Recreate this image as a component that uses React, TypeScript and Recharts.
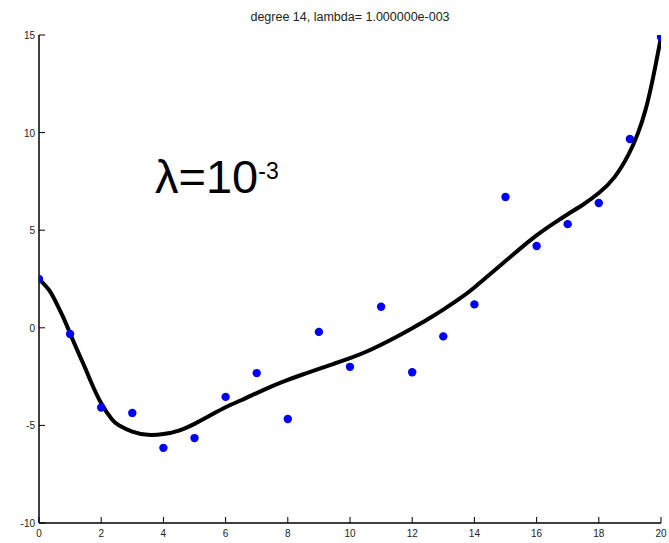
import React from 'react';
import { ComposedChart, Line, Scatter, XAxis, YAxis } from 'recharts';

// observed samples
const sampleX = [0, 1, 2, 3, 4, 5, 6, 7, 8, 9, 10, 11, 12, 13, 14, 15, 16, 17, 18, 19, 20];
const sampleY = [2.5, -0.32, -4.08, -4.36, -6.15, -5.65, -3.54, -2.32, -4.67, -0.21, -2.0, 1.08, -2.28, -0.44, 1.2, 6.7, 4.19, 5.31, 6.39, 9.67, 14.9];

// fitted curve (degree 14, lambda = 1e-3)
const fitX = [0, 0.35, 0.5, 0.78, 1, 1.32, 1.5, 1.64, 2, 2.39, 2.5, 3, 3.5, 4, 4.5, 5, 5.5, 6, 6.5, 7, 7.5, 8, 8.5, 9, 9.5, 10, 10.5, 11, 11.5, 12, 12.5, 13, 13.5, 14, 14.5, 15, 15.5, 16, 16.5, 17, 17.5, 18, 18.5, 19, 19.25, 19.5, 19.75, 20];
const fitY = [2.5, 1.94, 1.45, 0.57, -0.3, -1.48, -2.1, -2.67, -3.95, -4.81, -4.95, -5.36, -5.52, -5.46, -5.3, -4.93, -4.5, -4.05, -3.72, -3.34, -2.98, -2.66, -2.38, -2.1, -1.83, -1.56, -1.25, -0.87, -0.46, -0.02, 0.43, 0.93, 1.45, 2.05, 2.75, 3.42, 4.1, 4.75, 5.3, 5.83, 6.3, 6.88, 7.6, 8.95, 9.9, 11.05, 12.8, 14.9];

const xTicks = [0, 2, 4, 6, 8, 10, 12, 14, 16, 18, 20];
const yTicks = [-10, -5, 0, 5, 10, 15];

const title = 'degree 14, lambda= 1.000000e-003';

const points = sampleX.map((x, i) => ({ x, y: sampleY[i] }));
const curve = fitX.map((x, i) => ({ x, y: fitY[i] }));

const FONT = '"Liberation Sans", Arial, sans-serif';

function XTick({ x, y, payload }: any) {
  return (
    <g>
      <line x1={x} y1={y} x2={x} y2={y - 6} stroke="#000" strokeWidth={1} />
      <text x={x} y={y + 14} textAnchor="middle" fontSize={10} fontFamily={FONT} fill="#222">
        {payload.value}
      </text>
    </g>
  );
}

function YTick({ x, y, payload }: any) {
  return (
    <g>
      <line x1={x} y1={y} x2={x + 6} y2={y} stroke="#000" strokeWidth={1} />
      <text x={x - 4} y={y + 4} textAnchor="end" fontSize={10} fontFamily={FONT} fill="#222">
        {payload.value}
      </text>
    </g>
  );
}

function Dot({ cx, cy }: any) {
  return <circle cx={cx} cy={cy} r={4.2} fill="#0000ff" />;
}

export default function App() {
  return (
    <div style={{ position: 'absolute', left: 0, top: 0, background: '#fff' }}>
      <ComposedChart
        width={669}
        height={543}
        margin={{ top: 35, right: 8, left: 0, bottom: 0 }}
      >
        <XAxis
          dataKey="x"
          type="number"
          domain={[0, 20]}
          ticks={xTicks}
          height={20}
          tickSize={0}
          tickMargin={0}
          tick={<XTick />}
          axisLine={{ stroke: '#000', strokeWidth: 1.5 }}
          allowDataOverflow
        />
        <YAxis
          dataKey="y"
          type="number"
          domain={[-10, 15]}
          ticks={yTicks}
          width={39}
          tickSize={0}
          tickMargin={0}
          tick={<YTick />}
          axisLine={{ stroke: '#000', strokeWidth: 1.5 }}
          allowDataOverflow
        />
        <Scatter data={points} dataKey="y" shape={<Dot />} isAnimationActive={false} />
        <Line
          data={curve}
          dataKey="y"
          type="basis"
          stroke="#000"
          strokeWidth={4}
          dot={false}
          activeDot={false}
          isAnimationActive={false}
        />
        <text x={350} y={21} textAnchor="middle" fontSize={12.5} fontFamily={FONT} fill="#222">
          {title}
        </text>
        <text x={155} y={193} fontSize={47} fontFamily={FONT} fill="#000">
          λ=10
          <tspan dy={-14} fontSize={23}>-3</tspan>
        </text>
      </ComposedChart>
    </div>
  );
}
